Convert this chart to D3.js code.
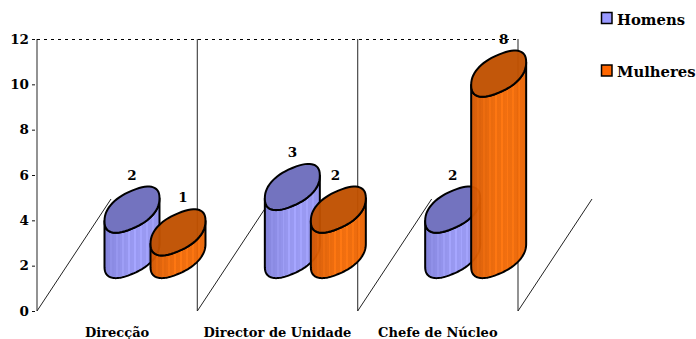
<!DOCTYPE html>
<html>
<head>
<meta charset="utf-8">
<script src="https://cdn.jsdelivr.net/npm/d3@7/dist/d3.min.js"></script>
<style>
html,body{margin:0;padding:0;background:#fff}
text{font-family:"DejaVu Serif",serif;font-weight:bold;fill:#000}
</style>
</head>
<body>
<svg id="chart" width="696" height="339"></svg>
<script>
const categories = ["Direcção", "Director de Unidade", "Chefe de Núcleo"];
const seriesNames = ["Homens", "Mulheres"];
const homens = [2, 3, 2];
const mulheres = [1, 2, 8];
const yTicks = [0, 2, 4, 6, 8, 10, 12];

// Fill tones for each series: side base, lit side, lid, legend
const sideTones = [
  ["#8080d8", "#a6a6ff", "#7373bf", "#9999ff"],
  ["#cf5400", "#ff7208", "#bf5000", "#ff6600"]
];
// Shading weights across a column, left to right (0 dark, 1 lit)
const stripeWeights = [0.05, 0.12, 0.2, 0.42, 0.28, 0.35, 0.6, 0.42, 0.5, 0.78, 0.55, 0.6, 0.95, 0.62, 0.65, 1, 0.66, 0.7, 0.95, 0.66, 0.65, 0.92, 0.62, 0.6, 0.85, 0.58, 0.55, 0.5];

const svg = d3.select("#chart");
const y = d3.scaleLinear().domain([0, 12]).range([311, 39]);
const x = d3.scaleBand().domain(categories).range([37, 518]);
const xSeries = d3.scalePoint().domain(seriesNames).range([0, 46]);

const floorDepth = {dx: 74, dy: -112};
const colRx = 27.5, colRy = 22.2, tilt = 31 * Math.PI / 180, squareness = 0.86;
const columnLeft = 67.5, baseY = y(0) - 56;

// Point on a column's slanted, slightly squared cross-section
function ellipsePoint(cx, cy, t) {
  const c = Math.cos(t), sn = Math.sin(t);
  const u = Math.sign(c) * Math.pow(Math.abs(c), squareness);
  const v = Math.sign(sn) * Math.pow(Math.abs(sn), squareness);
  return [cx + colRx * u, cy - colRy * (Math.sin(tilt) * u + Math.cos(tilt) * v)];
}
function arcPoints(cx, cy, from, to) {
  return d3.range(0, 61).map(i => ellipsePoint(cx, cy, from + (to - from) * i / 60));
}
const line = d3.line();

// Back walls, floor edges and the top gridline
const walls = svg.append("g");
const wallX = categories.map(c => x(c)).concat(x.range()[1]);
wallX.forEach(wx => {
  walls.append("line").attr("x1", wx).attr("x2", wx).attr("y1", y(12)).attr("y2", y(0))
    .attr("stroke", "#4a4a4a").attr("stroke-width", 1.2);
  walls.append("line").attr("x1", wx).attr("y1", y(0))
    .attr("x2", wx + floorDepth.dx).attr("y2", y(0) + floorDepth.dy)
    .attr("stroke", "#222").attr("stroke-width", 1);
});
walls.append("line").attr("x1", x.range()[0]).attr("x2", x.range()[1])
  .attr("y1", y(12) + 0.5).attr("y2", y(12) + 0.5)
  .attr("stroke", "#000").attr("stroke-width", 1).attr("stroke-dasharray", "3,4");

// Value axis labels
const yAxis = d3.axisLeft(y).tickValues(yTicks).tickSize(3).tickPadding(3);
const yG = svg.append("g").attr("transform", "translate(35,0)").call(yAxis);
yG.select(".domain").remove();
yG.selectAll(".tick line").attr("stroke", "#111");
yG.selectAll("text").style("font-size", "13.5px").style("font-family", '"DejaVu Serif",serif').style("font-weight", "bold");

// Vertical stripe fills
const defs = svg.append("defs");
sideTones.forEach((tones, s) => {
  const mix = d3.interpolateRgb(tones[0], tones[1]);
  const grad = defs.append("linearGradient").attr("id", "side" + s)
    .attr("x1", 0).attr("x2", 1).attr("y1", 0).attr("y2", 0);
  stripeWeights.forEach((w, i) => {
    grad.append("stop").attr("offset", i / stripeWeights.length).attr("stop-color", mix(w));
    grad.append("stop").attr("offset", (i + 1) / stripeWeights.length).attr("stop-color", mix(w));
  });
});

// Columns: one series pair per category
const seriesValues = [homens, mulheres];
const labelShift = [[0, 0, 0], [5, -3, 5]];
categories.forEach((cat, c) => {
  seriesNames.forEach((name, s) => {
    const v = seriesValues[s][c];
    const cx = x(cat) + columnLeft + xSeries(name) + colRx;
    const topY = baseY - (y(0) - y(v));
    const g = svg.append("g");
    const side = arcPoints(cx, baseY, Math.PI, 2 * Math.PI)
      .concat(arcPoints(cx, topY, 0, -Math.PI));
    g.append("path").attr("d", line(side) + "Z")
      .attr("fill", `url(#side${s})`).attr("fill-opacity", s === 1 ? 0.96 : 1)
      .attr("stroke", "#000").attr("stroke-width", 2).attr("stroke-linejoin", "round");
    g.append("path").attr("d", line(arcPoints(cx, topY, 0, 2 * Math.PI)) + "Z")
      .attr("fill", sideTones[s][2]).attr("fill-opacity", s === 1 ? 0.96 : 1)
      .attr("stroke", "#000").attr("stroke-width", 2);
    svg.append("text").attr("x", cx + labelShift[s][c]).attr("y", topY - 30)
      .attr("text-anchor", "middle").style("font-size", "13.5px").text(v);
  });
});

// Category labels
svg.append("g").selectAll("text").data(categories).join("text")
  .attr("x", d => x(d) + x.bandwidth() / 2).attr("y", 337)
  .attr("text-anchor", "middle").style("font-size", "13px").text(d => d);

// Legend
const legendY = d3.scalePoint().domain(seriesNames).range([18.5, 71]);
seriesNames.forEach((name, s) => {
  svg.append("rect").attr("x", 601.5).attr("y", legendY(name) - 6).attr("width", 10.5).attr("height", 11)
    .attr("fill", sideTones[s][3]).attr("stroke", "#000").attr("stroke-width", 1.5);
  svg.append("text").attr("x", 617).attr("y", legendY(name) + 6).style("font-size", "14.8px").text(name);
});
</script>
</body>
</html>
